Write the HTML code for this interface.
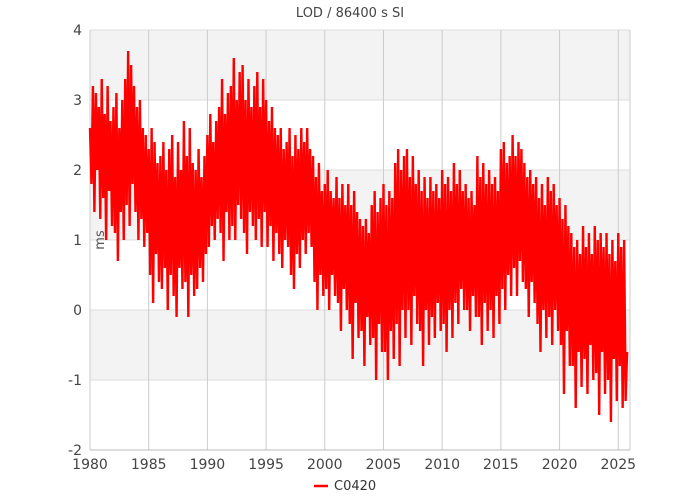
<!DOCTYPE html>
<html><head><meta charset="utf-8"><style>
html,body{margin:0;padding:0;background:#fff;}
svg{display:block;font-family:"DejaVu Sans","Liberation Sans",sans-serif;}
</style></head><body>
<svg id="chart" width="700" height="500" viewBox="0 0 700 500">
<text x="350" y="17" text-anchor="middle" font-size="13" fill="#444">LOD / 86400 s SI</text>
<g id="bands"></g>
<g id="grid"></g>
<g id="yticks"></g>
<g id="xticks"></g>
<text x="104" y="240" font-size="13" fill="#555" transform="rotate(-90 104 240)" text-anchor="middle">ms</text>
<path id="series" fill="none" stroke="#ff0000" stroke-width="2.4" stroke-linejoin="miter"></path>
<g>
<line x1="314" y1="486" x2="328" y2="486" stroke="#ff0000" stroke-width="2.5"></line>
<text x="334" y="490" font-size="13" fill="#333">C0420</text>
</g>
</svg>
<script>
const xTicks = [1980,1985,1990,1995,2000,2005,2010,2015,2020,2025];
const yTicks = [-2,-1,0,1,2,3,4];
const startYear = 1980;
const stepsPerYear = 8;
const lod = [
2.6,1.8,3.2,1.4,3.1,2.0,2.9,1.3,
3.3,1.6,2.8,1.0,3.2,1.7,2.7,1.2,
2.9,1.1,3.1,0.7,2.6,1.4,3.0,1.0,
3.3,1.5,3.7,1.2,3.5,1.8,3.2,1.4,
2.9,1.0,3.0,1.3,2.6,0.9,2.5,1.1,
2.3,0.5,2.6,0.1,2.4,0.8,2.1,0.4,
2.2,0.3,2.4,0.6,2.0,0.0,2.3,0.5,
2.5,0.2,1.9,-0.1,2.4,0.6,2.0,0.3,
2.7,0.4,2.2,-0.1,2.6,0.5,2.1,0.2,
2.0,0.3,2.3,0.6,1.9,0.4,2.2,0.8,
2.5,0.9,2.8,1.2,2.4,1.0,2.7,1.3,
2.9,1.1,3.3,0.7,2.8,1.4,3.1,1.0,
3.2,1.2,3.6,1.0,3.0,1.5,3.4,1.3,
3.5,1.1,3.0,0.8,3.3,1.4,2.9,1.2,
3.2,1.0,3.4,1.3,2.9,0.9,3.3,1.4,
3.0,0.9,2.7,1.2,2.9,0.7,2.6,1.1,
2.5,0.8,2.6,0.6,2.3,1.0,2.4,0.9,
2.6,0.5,2.2,0.3,2.5,0.8,2.3,0.6,
2.6,1.0,2.4,0.8,2.6,1.1,2.3,0.9,
2.2,0.4,1.9,0.0,2.1,0.5,1.7,0.2,
1.8,0.3,2.0,0.0,1.7,0.5,1.6,0.2,
1.9,0.1,1.6,-0.3,1.8,0.3,1.5,0.0,
1.8,-0.2,1.5,-0.7,1.7,0.1,1.4,-0.4,
1.3,-0.3,1.2,-0.8,1.3,-0.1,1.1,-0.5,
1.5,-0.4,1.7,-1.0,1.4,-0.2,1.6,-0.6,
1.8,-0.6,1.5,-1.0,1.7,-0.3,1.6,-0.7,
2.1,-0.2,2.3,-0.8,2.0,0.0,2.2,-0.4,
2.3,0.0,1.9,-0.5,2.2,0.2,1.8,-0.2,
2.0,-0.3,1.7,-0.8,1.9,0.0,1.6,-0.5,
1.9,-0.1,1.7,-0.4,1.8,0.1,1.6,-0.3,
2.0,-0.2,1.8,-0.6,1.9,0.0,1.7,-0.4,
2.1,0.1,1.8,-0.2,2.0,0.3,1.7,0.0,
1.8,0.0,1.6,-0.3,1.7,0.2,1.5,-0.1,
2.2,-0.1,1.9,-0.5,2.1,0.1,1.8,-0.3,
2.0,0.0,1.8,-0.4,1.9,0.2,1.7,-0.2,
2.3,0.3,2.4,0.0,2.1,0.5,2.2,0.2,
2.5,0.6,2.2,0.2,2.4,0.7,2.3,0.4,
2.1,0.3,1.9,-0.1,2.0,0.4,1.8,0.1,
1.9,-0.2,1.6,-0.6,1.8,0.0,1.5,-0.4,
1.9,-0.1,1.7,-0.5,1.8,0.0,1.5,-0.3,
1.6,-0.5,1.3,-1.2,1.5,-0.3,1.2,-0.8,
1.1,-0.8,0.9,-1.4,1.0,-0.6,0.8,-1.1,
1.2,-0.7,0.9,-1.2,1.1,-0.5,0.8,-1.0,
1.2,-0.9,1.0,-1.5,1.1,-0.6,0.9,-1.2,
1.1,-1.0,0.8,-1.6,1.0,-0.7,0.7,-1.3,
1.1,-0.8,0.9,-1.4,1.0,-1.3,-0.6
];
const NS='http://www.w3.org/2000/svg';
const L=90,R=630,T=30,B=450;
const xMin=1980,xMax=2026,yMin=-2,yMax=4;
function xs(v){return L+(v-xMin)/(xMax-xMin)*(R-L);}
function ys(v){return B-(v-yMin)/(yMax-yMin)*(B-T);}
function mk(tag,attrs,parent){const e=document.createElementNS(NS,tag);for(const k in attrs)e.setAttribute(k,attrs[k]);parent.appendChild(e);return e;}
const bands=document.getElementById('bands');
for(let v=yMin;v<yMax;v++){
  if(((v%2)+2)%2===1){
    const r=mk('rect',{x:L,y:ys(v+1),width:R-L,height:ys(v)-ys(v+1),fill:'#f3f3f3'},bands);
    
    
  }
}
const grid=document.getElementById('grid');
const yg=document.getElementById('yticks');
yTicks.forEach(v=>{
  const l=mk('line',{x1:L,x2:R,y1:ys(v),y2:ys(v),stroke:'#dddddd','stroke-width':1},grid);
  
  
  const t=mk('text',{x:L-8,y:ys(v)+5,'text-anchor':'end','font-size':14,fill:'#444'},yg);
  t.textContent=v;
  
  
});
const xg=document.getElementById('xticks');
xTicks.forEach(v=>{
  const l=mk('line',{x1:xs(v),x2:xs(v),y1:T,y2:B,stroke:'#cccccc','stroke-width':1},grid);
  
  
  const t=mk('text',{x:xs(v),y:B+19,'text-anchor':'middle','font-size':14,fill:'#444'},xg);
  t.textContent=v;
  
  
});
const rb=mk('line',{x1:R,x2:R,y1:T,y2:B,stroke:'#cccccc','stroke-width':1},grid);


const ax=mk('line',{x1:L,x2:R,y1:B,y2:B,stroke:'#bbbbbb','stroke-width':1},grid);


let d='';
lod.forEach((v,i)=>{
  const t=startYear+i/stepsPerYear;
  d+=(i?'L':'M')+xs(t).toFixed(2)+' '+ys(v).toFixed(2);
});
document.getElementById('series').setAttribute('d',d);
</script>
</body></html>
